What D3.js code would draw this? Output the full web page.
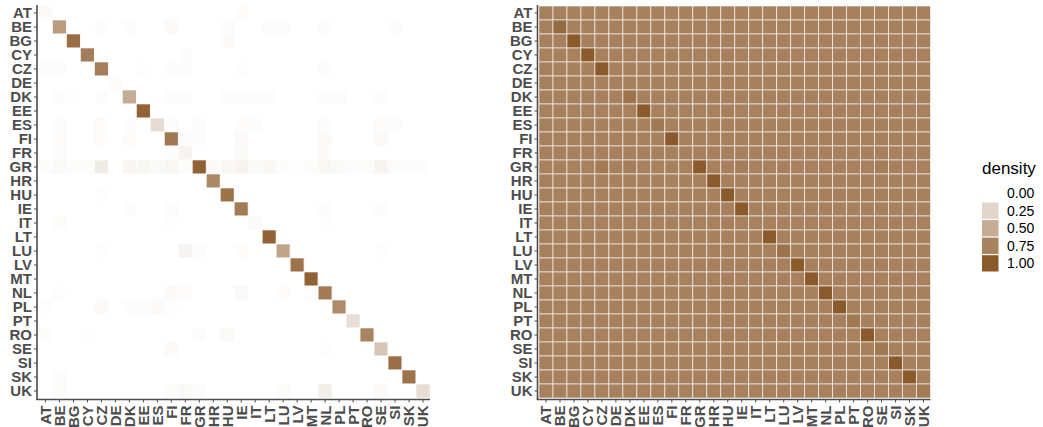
<!DOCTYPE html>
<html>
<head>
<meta charset="utf-8">
<script src="https://cdn.jsdelivr.net/npm/d3@7"></script>
<style>
  html, body { margin: 0; padding: 0; background: #fff; }
  svg { display: block; font-family: "Liberation Sans", Arial, sans-serif; }
</style>
</head>
<body>
<svg id="chart" width="1043" height="427"></svg>
<script>
// Country codes (row and column order of both matrices)
const countries = ["AT","BE","BG","CY","CZ","DE","DK","EE","ES","FI","FR","GR","HR","HU",
                   "IE","IT","LT","LU","LV","MT","NL","PL","PT","RO","SE","SI","SK","UK"];

// Left matrix: diagonal densities
const leftDiag = [0.03,0.6,0.88,0.78,0.78,0.02,0.5,0.95,0.22,0.82,0.07,0.95,0.72,0.85,
                  0.8,0.03,0.95,0.55,0.85,0.95,0.8,0.7,0.2,0.75,0.35,0.88,0.85,0.2];
// Left matrix: off-diagonal densities [row, column, value]; all others are 0
const leftOff = [
  ["AT","IE",0.02],
  ["BE","CZ",0.015],["BE","DK",0.015],["BE","FI",0.03],["BE","HU",0.015],["BE","LT",0.015],["BE","LU",0.015],["BE","NL",0.015],["BE","SI",0.015],
  ["BG","HU",0.03],["CY","FR",0.015],
  ["CZ","AT",0.015],["CZ","BE",0.015],["CZ","EE",0.01],["CZ","FI",0.015],["CZ","FR",0.015],["CZ","IE",0.01],["CZ","NL",0.015],
  ["DK","BE",0.015],["DK","BG",0.01],["DK","CZ",0.02],["DK","FI",0.015],["DK","FR",0.015],["DK","HU",0.02],["DK","IE",0.02],["DK","IT",0.015],["DK","LT",0.015],["DK","NL",0.015],["DK","PL",0.015],["DK","SE",0.02],
  ["ES","BE",0.015],["ES","CZ",0.025],["ES","DK",0.015],["ES","FI",0.015],["ES","GR",0.015],["ES","IE",0.02],["ES","IT",0.015],["ES","NL",0.015],["ES","SE",0.02],["ES","SI",0.015],
  ["FI","BE",0.02],["FI","CZ",0.025],["FI","DK",0.025],["FI","FR",0.015],["FI","IE",0.035],["FI","NL",0.03],["FI","SE",0.035],["FI","GR",0.015],
  ["FR","BE",0.02],["FR","FI",0.02],["FR","IE",0.03],["FR","NL",0.03],
  ["GR","AT",0.02],["GR","BE",0.04],["GR","BG",0.02],["GR","CY",0.02],["GR","CZ",0.12],["GR","DK",0.06],["GR","EE",0.05],
  ["GR","ES",0.04],["GR","FI",0.05],["GR","FR",0.02],["GR","HR",0.03],["GR","HU",0.05],["GR","IE",0.08],["GR","IT",0.04],
  ["GR","LT",0.05],["GR","LU",0.02],["GR","LV",0.01],["GR","MT",0.02],["GR","NL",0.05],["GR","PL",0.04],["GR","PT",0.02],
  ["GR","RO",0.02],["GR","SE",0.07],["GR","SI",0.02],["GR","SK",0.02],["GR","UK",0.02],
  ["HU","CZ",0.01],["IE","DK",0.015],["IE","FI",0.015],["IE","NL",0.02],["IE","SE",0.02],
  ["IT","BE",0.02],["IT","FI",0.01],["IT","NL",0.01],
  ["LU","CZ",0.01],["LU","FR",0.07],["LU","GR",0.02],["LU","IE",0.02],["LU","SE",0.01],
  ["NL","BE",0.01],["NL","FI",0.03],["NL","FR",0.02],["NL","IE",0.04],["NL","LU",0.02],["NL","MT",0.01],
  ["PL","AT",0.01],["PL","CZ",0.03],["PL","DK",0.015],["PL","EE",0.015],["PL","ES",0.03],["PL","FI",0.01],
  ["RO","AT",0.02],["RO","CY",0.01],["RO","GR",0.02],["RO","HU",0.04],
  ["SE","FI",0.03],["SE","NL",0.01],["SK","BE",0.015],
  ["UK","BE",0.02],["UK","FI",0.02],["UK","FR",0.04],["UK","GR",0.02],["UK","LU",0.02],["UK","NL",0.1],["UK","SE",0.03]
];

// Right matrix: common off-diagonal density and diagonal densities
const rightBase = 0.76;
const rightDiag = [0.76,0.9,1.0,1.0,1.0,0.76,0.85,1.0,0.82,1.0,0.76,1.0,1.0,1.0,
                   1.0,0.76,1.0,0.85,1.0,1.0,1.0,1.0,0.82,1.0,0.82,1.0,1.0,0.8];
// Right matrix: off-diagonal exceptions [row, column, value]
const rightOff = [
  ["GR","CZ",0.8],["GR","DK",0.78],["GR","IE",0.78],["GR","SE",0.78]
];

const legendValues = [0.00,0.25,0.50,0.75,1.00];
const legendTitle = "density";

const FILL = "#8B5A2B";
const TEXT = "#4D4D4D";

function buildMatrix(base, diag, off) {
  const cells = [];
  countries.forEach((r, i) => {
    countries.forEach((c, j) => {
      cells.push({ row: r, col: c, value: i === j ? diag[i] : base });
    });
  });
  const idx = new Map(cells.map(d => [d.row + "|" + d.col, d]));
  off.forEach(([r, c, v]) => { idx.get(r + "|" + c).value = v; });
  return cells;
}

const leftCells = buildMatrix(0, leftDiag, leftOff);
const rightCells = buildMatrix(rightBase, rightDiag, rightOff);

const svg = d3.select("#chart");
const opacity = d3.scaleLinear().domain([0, 1]).range([0, 1]);

function panel(cells, x0, x1, y0, y1) {
  const x = d3.scaleBand().domain(countries).range([x0, x1]).padding(0);
  const y = d3.scaleBand().domain(countries).range([y0, y1]).padding(0);
  const g = svg.append("g");

  g.selectAll("rect.cell").data(cells).join("rect")
    .attr("class", "cell")
    .attr("x", d => x(d.col))
    .attr("y", d => y(d.row))
    .attr("width", x.bandwidth())
    .attr("height", y.bandwidth())
    .attr("fill", FILL)
    .attr("fill-opacity", d => opacity(d.value))
    .attr("stroke", "#ffffff")
    .attr("stroke-opacity", 0.75)
    .attr("stroke-width", 0.8);

  const yAxis = g.append("g")
    .attr("transform", `translate(${x0 - 1.5},0)`)
    .call(d3.axisLeft(y).tickSize(3).tickPadding(2));
  const xAxis = g.append("g")
    .attr("transform", `translate(0,${y1 + 1.5})`)
    .call(d3.axisBottom(x).tickSize(3).tickPadding(2));

  [yAxis, xAxis].forEach(a => {
    a.select(".domain").attr("stroke", TEXT).attr("stroke-width", 1.6);
    a.selectAll(".tick line").attr("stroke", TEXT).attr("stroke-width", 1);
    a.selectAll(".tick text")
      .attr("fill", TEXT)
      .style("font-size", "15px")
      .style("font-weight", "bold")
      .style("font-family", "'Liberation Sans', Arial, sans-serif");
  });
  // axis lines meet at the lower-left corner
  yAxis.select(".domain").attr("d", `M0,${y0 - 1}V${y1 + 1.5}`);
  xAxis.select(".domain").attr("d", `M${x0 - 2.3},0H${x1}`);

  xAxis.selectAll(".tick text")
    .attr("transform", "rotate(-90)")
    .attr("text-anchor", "end")
    .attr("x", -6)
    .attr("y", 0)
    .attr("dy", "0.36em");
}

panel(leftCells, 38.5, 430, 6, 398);
panel(rightCells, 539, 930.5, 6, 398);

// Legend
const lg = svg.append("g").attr("transform", "translate(982,0)");
lg.append("text")
  .attr("x", 0).attr("y", 174)
  .attr("fill", "#000")
  .style("font-size", "17px")
  .style("font-family", "'Liberation Sans', Arial, sans-serif")
  .text(legendTitle);

const keyY = d3.scaleBand().domain(legendValues).range([185, 271.5]).paddingInner(0.07);
const lk = lg.selectAll("g.key").data(legendValues).join("g").attr("class", "key");
lk.append("rect")
  .attr("x", 0)
  .attr("y", d => keyY(d))
  .attr("width", 16.5)
  .attr("height", keyY.bandwidth())
  .attr("fill", FILL)
  .attr("fill-opacity", d => opacity(d));
lk.append("text")
  .attr("x", 25)
  .attr("y", d => keyY(d) + keyY.bandwidth() / 2)
  .attr("dy", "0.36em")
  .attr("fill", "#000")
  .style("font-size", "14px")
  .style("font-family", "'Liberation Sans', Arial, sans-serif")
  .text(d => d.toFixed(2));
</script>
</body>
</html>
